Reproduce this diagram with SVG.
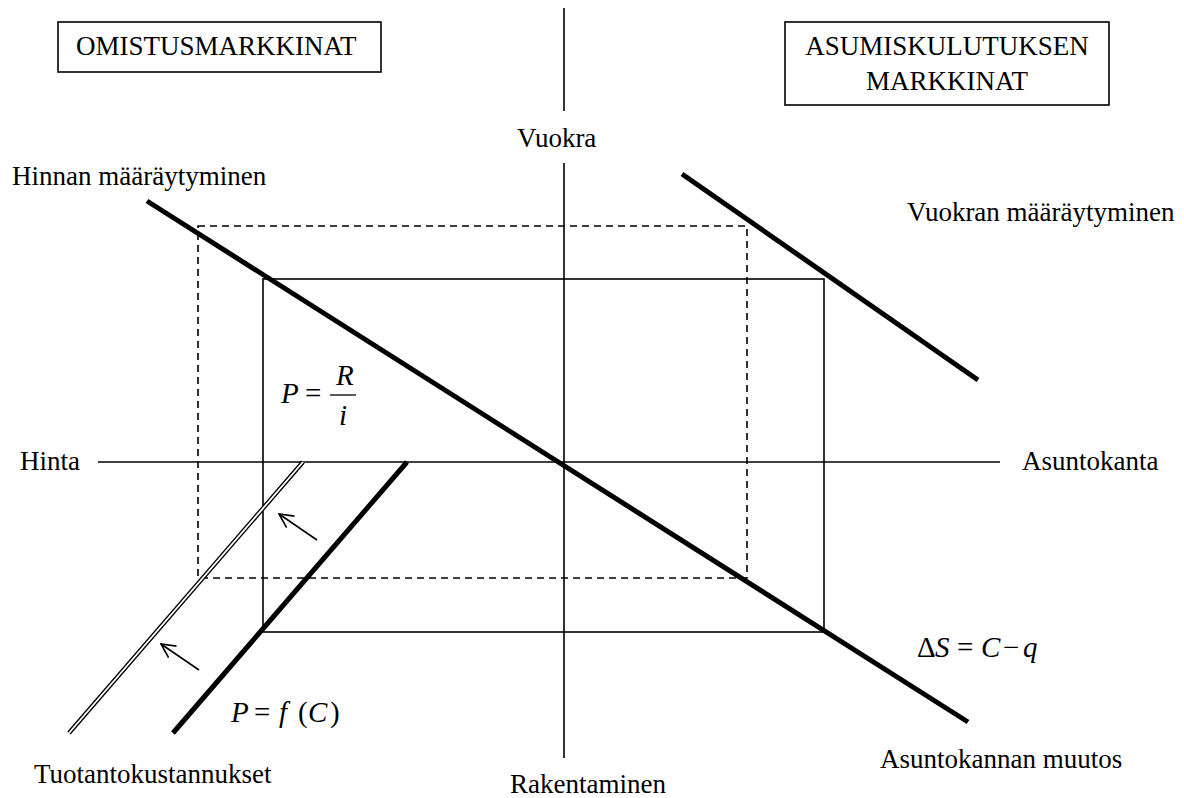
<svg xmlns="http://www.w3.org/2000/svg" width="1184" height="798" viewBox="0 0 1184 798">
<style>
text{font-family:"Liberation Serif","Times New Roman",serif;font-size:27px;fill:#000}
.f{font-size:29px}
.it{font-style:italic}
.thin{stroke:#000;stroke-width:1.6;fill:none}
.dash{stroke:#000;stroke-width:1.6;fill:none;stroke-dasharray:7 5}
.thick{stroke:#000;stroke-width:5;fill:none}
</style>
<defs>
<marker id="open" viewBox="0 0 20 20" refX="19" refY="10" markerWidth="20" markerHeight="20" markerUnits="userSpaceOnUse" orient="auto">
<path d="M5,3 L19,10 L5,17" fill="none" stroke="#000" stroke-width="1.6"/>
</marker>
</defs>
<rect width="1184" height="798" fill="#fff"/>
<g id="box-omistus">
<rect x="58" y="22" width="323" height="50" class="thin"/>
<text x="76" y="55">OMISTUSMARKKINAT</text>
</g>
<g id="box-asumis">
<rect x="785" y="22" width="324" height="83" class="thin"/>
<text x="947" y="55" text-anchor="middle">ASUMISKULUTUKSEN</text>
<text x="947" y="90" text-anchor="middle">MARKKINAT</text>
</g>
<g id="axes">
<line x1="564" y1="8" x2="564" y2="111" class="thin"/>
<line x1="564" y1="163" x2="564" y2="758" class="thin"/>
<line x1="98" y1="462" x2="1000" y2="462" class="thin"/>
</g>
<g id="rectangles">
<rect x="198" y="226" width="549" height="352" class="dash"/>
<rect x="263" y="279" width="561" height="353" class="thin"/>
</g>
<g id="connectors">
<line x1="147" y1="201" x2="968" y2="722" class="thick"/>
<line x1="682" y1="174" x2="978" y2="380" class="thick"/>
<line x1="407" y1="462" x2="173" y2="733" class="thick"/>
<line x1="303" y1="462" x2="69" y2="733" stroke="#000" stroke-width="4.5"/>
<line x1="303" y1="462" x2="69" y2="733" stroke="#fff" stroke-width="1.8"/>
<line x1="317" y1="540" x2="279" y2="514" class="thin" marker-end="url(#open)"/>
<line x1="199" y1="670" x2="161" y2="644" class="thin" marker-end="url(#open)"/>
</g>
<g id="labels">
<text x="517" y="147">Vuokra</text>
<text x="12" y="185">Hinnan määräytyminen</text>
<text x="907" y="221">Vuokran määräytyminen</text>
<text x="20" y="470">Hinta</text>
<text x="1022" y="470">Asuntokanta</text>
<text x="34" y="783">Tuotantokustannukset</text>
<text x="510" y="793">Rakentaminen</text>
<text x="880" y="768">Asuntokannan muutos</text>
</g>
<g id="formula-price">
<text x="281" y="403" class="f it">P</text>
<text x="305" y="403" class="f">=</text>
<text x="336" y="385" class="f it">R</text>
<line x1="330" y1="395" x2="356" y2="395" stroke="#000" stroke-width="1.3"/>
<text x="339" y="425" class="f it">i</text>
</g>
<g id="formula-stock">
<text y="657" class="f"><tspan x="917">Δ</tspan><tspan x="935" class="it">S</tspan><tspan x="957">=</tspan><tspan x="981" class="it">C</tspan><tspan x="1003">−</tspan><tspan x="1023" class="it">q</tspan></text>
</g>
<g id="formula-cost">
<text y="722" class="f"><tspan x="231" class="it">P</tspan><tspan x="254">=</tspan><tspan x="279" class="it">f</tspan><tspan x="298">(</tspan><tspan x="308" class="it">C</tspan><tspan x="330">)</tspan></text>
</g>
</svg>
